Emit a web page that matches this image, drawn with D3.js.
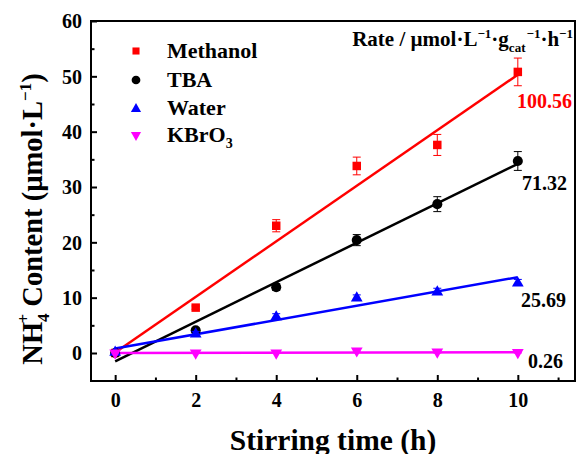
<!DOCTYPE html>
<html lang="en">
<head>
  <meta charset="UTF-8">
  <title>NH4+ content</title>
  <script src="https://d3js.org/d3.v7.min.js" charset="utf-8"></script>
  <style>
    body { margin: 0; background: #fff; }
    text { font-family: "Liberation Serif", "Times New Roman", serif; font-weight: bold; }
  </style>
</head>
<body>
</body>
<script>
  // data
  var hours = [0, 2, 4, 6, 8, 10]
  var seriesNames = ['Methanol', 'TBA', 'Water', 'KBrO3']
  var methanol = [0, 8.2, 23.0, 33.8, 37.6, 50.8]
  var methanolErr = [0, 0.3, 1.1, 1.6, 1.9, 2.5]
  var tba = [0, 4.1, 11.9, 20.4, 26.9, 34.7]
  var tbaErr = [0, 0.4, 0.6, 1.0, 1.35, 1.7]
  var water = [0.3, 3.6, 6.7, 10.1, 11.2, 12.8]
  var waterErr = [0, 0.3, 0.4, 0.4, 0.5, 0.5]
  var kbro3 = [0, 0, 0, 0.4, 0.2, 0.1]
  var kbro3Err = [0, 0, 0, 0.2, 0.2, 0.1]
  // fitted lines: value at 0 h and at 10 h
  var fitStart = [0.1, -1.5, 0.8, 0]
  var fitEnd = [50.3, 34.2, 13.7, 0.15]
  var rates = ['100.56', '71.32', '25.69', '0.26']
  var xTicks = [0, 2, 4, 6, 8, 10]
  var yTicks = [0, 10, 20, 30, 40, 50, 60]

  var colors = ['#ff0000', '#000000', '#0000ff', '#ff00ff']
  var shapes = [d3.symbolSquare, d3.symbolCircle, d3.symbolTriangle, 'down']
  var values = [methanol, tba, water, kbro3]
  var errs = [methanolErr, tbaErr, waterErr, kbro3Err]

  var W = 579, H = 454
  var svg = d3.select('body').append('svg').attr('width', W).attr('height', H)

  var x = d3.scaleLinear().domain([-0.6, 11.42]).range([91, 575])
  var y = d3.scaleLinear().domain([-5.06, 60]).range([381, 21])

  function symbolPath(shape, size) {
    if (shape === 'down') return d3.symbol(d3.symbolTriangle, size)()
    return d3.symbol(shape, size)()
  }
  function symbolTransform(shape, cx, cy) {
    if (shape === 'down') return 'translate(' + cx + ',' + cy + ') rotate(180)'
    if (shape === d3.symbolTriangle) return 'translate(' + cx + ',' + (cy + 1) + ')'
    return 'translate(' + cx + ',' + cy + ')'
  }

  // axes
  var xAxis = svg.append('g').attr('transform', 'translate(0,381)')
    .call(d3.axisBottom(x).tickValues(xTicks).tickSize(-6).tickPadding(12).tickFormat(d3.format('d')))
  var xMinor = svg.append('g').attr('transform', 'translate(0,381)')
    .call(d3.axisBottom(x).tickValues([1, 3, 5, 7, 9, 11]).tickSize(-3.5).tickFormat(''))
  var yAxis = svg.append('g').attr('transform', 'translate(91,0)')
    .call(d3.axisLeft(y).tickValues(yTicks).tickSize(-6).tickPadding(9).tickFormat(d3.format('d')))
  var yMinor = svg.append('g').attr('transform', 'translate(91,0)')
    .call(d3.axisLeft(y).tickValues([5, 15, 25, 35, 45, 55]).tickSize(-3.5).tickFormat(''))
  svg.selectAll('.domain').remove()
  svg.selectAll('.tick line').attr('stroke', '#000').attr('stroke-width', 2)
  svg.selectAll('.tick text').attr('fill', '#000').style('font-size', '20px')
    .style('font-family', '"Liberation Serif", serif').style('font-weight', 'bold')
  yAxis.selectAll('.tick text').attr('dy', '0.34em')

  svg.append('rect').attr('x', 91).attr('y', 21).attr('width', 484).attr('height', 360)
    .attr('fill', 'none').attr('stroke', '#000').attr('stroke-width', 2)

  // fit lines
  values.forEach(function(v, i) {
    svg.append('line')
      .attr('x1', x(0)).attr('y1', y(fitStart[i]))
      .attr('x2', x(10)).attr('y2', y(fitEnd[i]))
      .attr('stroke', colors[i]).attr('stroke-width', 2.5)
  })

  // error bars + markers
  values.forEach(function(v, i) {
    var g = svg.append('g')
    hours.forEach(function(h, j) {
      var e = errs[i][j]
      if (e > 0) {
        var cx = x(h)
        g.append('line').attr('x1', cx).attr('x2', cx).attr('y1', y(v[j] + e)).attr('y2', y(v[j] - e))
          .attr('stroke', colors[i]).attr('stroke-width', 1)
        ;[v[j] + e, v[j] - e].forEach(function(t) {
          g.append('line').attr('x1', cx - 4).attr('x2', cx + 4).attr('y1', y(t)).attr('y2', y(t))
            .attr('stroke', colors[i]).attr('stroke-width', 1)
        })
      }
    })
    var size = shapes[i] === d3.symbolSquare ? 72 : shapes[i] === d3.symbolCircle ? 80 : 60
    g.selectAll('path.mark').data(v).enter().append('path')
      .attr('class', 'mark')
      .attr('d', symbolPath(shapes[i], size))
      .attr('transform', function(d, j) { return symbolTransform(shapes[i], x(hours[j]), y(d)) })
      .attr('fill', colors[i])
  })

  // legend
  var legY = [51, 80, 108, 135]
  seriesNames.forEach(function(name, i) {
    var size = shapes[i] === d3.symbolSquare ? 50 : shapes[i] === d3.symbolCircle ? 60 : 45
    svg.append('path').attr('d', symbolPath(shapes[i], size))
      .attr('transform', symbolTransform(shapes[i], 136, legY[i]))
      .attr('fill', colors[i])
    var t = svg.append('text').attr('x', 167).attr('y', legY[i] + 7).style('font-size', '22px').attr('fill', '#000')
    if (name === 'KBrO3') {
      t.append('tspan').text('KBrO')
      t.append('tspan').attr('dy', 6).style('font-size', '14px').text('3')
    } else {
      t.text(name)
    }
  })

  // rate header
  var rt = svg.append('text').attr('x', 573).attr('y', 46).attr('text-anchor', 'end').style('font-size', '21px')
  rt.append('tspan').text('Rate / µmol·L')
  rt.append('tspan').attr('dy', -8).style('font-size', '13px').text('−1')
  rt.append('tspan').attr('dy', 8).text('·g')
  rt.append('tspan').attr('dy', 6).style('font-size', '13px').text('cat')
  rt.append('tspan').attr('dy', -14).attr('dx', 1).style('font-size', '13px').text('−1')
  rt.append('tspan').attr('dy', 8).text('·h')
  rt.append('tspan').attr('dy', -8).style('font-size', '13px').text('−1')

  // rate values at line ends
  var rateY = [108, 190, 307, 368]
  var rateX = [517, 522, 521, 528]
  rates.forEach(function(r, i) {
    svg.append('text').attr('x', rateX[i]).attr('y', rateY[i]).style('font-size', '20px')
      .attr('fill', i === 0 ? colors[0] : '#000').text(r)
  })

  // axis titles
  svg.append('text').attr('x', 333).attr('y', 449.5).attr('text-anchor', 'middle')
    .style('font-size', '29.5px').text('Stirring time (h)')

  var yt = svg.append('text').attr('transform', 'translate(42,219) rotate(-90)')
    .attr('text-anchor', 'middle').style('font-size', '28.5px')
  yt.append('tspan').text('NH')
  yt.append('tspan').attr('dy', 7).style('font-size', '17px').text('4')
  yt.append('tspan').attr('dy', -20).attr('dx', -10).style('font-size', '17px').text('+')
  yt.append('tspan').attr('dy', 13).text(' Content (µmol·L')
  yt.append('tspan').attr('dy', -11).style('font-size', '17px').text('−1')
  yt.append('tspan').attr('dy', 11).text(')')
</script>
</html>
